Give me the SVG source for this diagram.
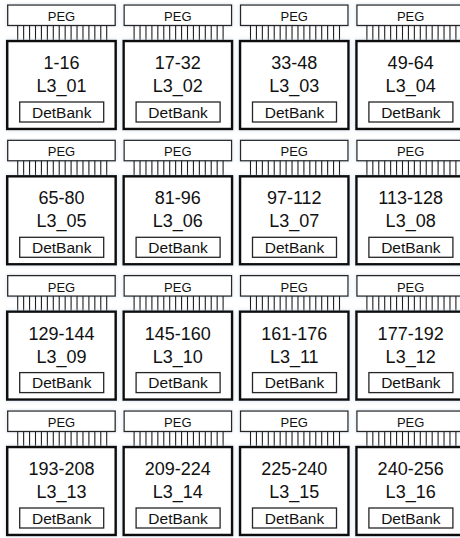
<svg xmlns="http://www.w3.org/2000/svg" xmlns:xlink="http://www.w3.org/1999/xlink" width="460" height="538" viewBox="0 0 460 538">
<style>
  .peg{fill:#fff;stroke:#262626;stroke-width:1.3}
  .main{fill:#fff;stroke:#111;stroke-width:2.5}
  .det{fill:#fff;stroke:#262626;stroke-width:1.3}
  .pin{stroke:#1e1e1e;stroke-width:1.1}
  text{font-family:"Liberation Sans",Arial,sans-serif;fill:#111;text-anchor:middle}
  .tp{font-size:13px}
  .tr{font-size:18px}
  .td{font-size:15.5px}
</style>
<defs>
  <filter id="glow" x="-10%" y="-10%" width="120%" height="120%">
    <feGaussianBlur in="SourceAlpha" stdDeviation="2.2" result="b"/>
    <feFlood flood-color="#b9c8dd" flood-opacity="0.55"/>
    <feComposite operator="in" in2="b" result="s"/>
    <feMerge><feMergeNode in="s"/><feMergeNode in="SourceGraphic"/></feMerge>
  </filter>
  <g id="pins">
    <line class="pin" x1="10.5" y1="20.5" x2="10.5" y2="36"/>
    <line class="pin" x1="16.43" y1="20.5" x2="16.43" y2="36"/>
    <line class="pin" x1="22.37" y1="20.5" x2="22.37" y2="36"/>
    <line class="pin" x1="28.3" y1="20.5" x2="28.3" y2="36"/>
    <line class="pin" x1="34.23" y1="20.5" x2="34.23" y2="36"/>
    <line class="pin" x1="40.17" y1="20.5" x2="40.17" y2="36"/>
    <line class="pin" x1="46.1" y1="20.5" x2="46.1" y2="36"/>
    <line class="pin" x1="52.03" y1="20.5" x2="52.03" y2="36"/>
    <line class="pin" x1="57.97" y1="20.5" x2="57.97" y2="36"/>
    <line class="pin" x1="63.9" y1="20.5" x2="63.9" y2="36"/>
    <line class="pin" x1="69.83" y1="20.5" x2="69.83" y2="36"/>
    <line class="pin" x1="75.77" y1="20.5" x2="75.77" y2="36"/>
    <line class="pin" x1="81.7" y1="20.5" x2="81.7" y2="36"/>
    <line class="pin" x1="87.63" y1="20.5" x2="87.63" y2="36"/>
    <line class="pin" x1="93.57" y1="20.5" x2="93.57" y2="36"/>
    <line class="pin" x1="99.5" y1="20.5" x2="99.5" y2="36"/>
  </g>
  <g id="frame">
    <rect class="peg" x="0.5" y="0" width="107.5" height="20.5" filter="url(#glow)"/>
    <text class="tp" x="54.25" y="16">PEG</text>
    <use xlink:href="#pins"/>
    <rect class="main" x="0" y="36" width="108.5" height="88" filter="url(#glow)"/>
    <rect class="det" x="12.5" y="97" width="84" height="20"/>
    <text class="td" x="54.5" y="112.5">DetBank</text>
  </g>
</defs>
<g id="connectors"></g>

<g id="n01" transform="translate(7.2,5)"><use xlink:href="#frame"/><text class="tr" x="54.25" y="64">1-16</text><text class="tr" x="54.25" y="87">L3_01</text></g>
<g id="n02" transform="translate(123.6,5)"><use xlink:href="#frame"/><text class="tr" x="54.25" y="64">17-32</text><text class="tr" x="54.25" y="87">L3_02</text></g>
<g id="n03" transform="translate(240,5)"><use xlink:href="#frame"/><text class="tr" x="54.25" y="64">33-48</text><text class="tr" x="54.25" y="87">L3_03</text></g>
<g id="n04" transform="translate(356.4,5)"><use xlink:href="#frame"/><text class="tr" x="54.25" y="64">49-64</text><text class="tr" x="54.25" y="87">L3_04</text></g>

<g id="n05" transform="translate(7.2,140.3)"><use xlink:href="#frame"/><text class="tr" x="54.25" y="64">65-80</text><text class="tr" x="54.25" y="87">L3_05</text></g>
<g id="n06" transform="translate(123.6,140.3)"><use xlink:href="#frame"/><text class="tr" x="54.25" y="64">81-96</text><text class="tr" x="54.25" y="87">L3_06</text></g>
<g id="n07" transform="translate(240,140.3)"><use xlink:href="#frame"/><text class="tr" x="54.25" y="64">97-112</text><text class="tr" x="54.25" y="87">L3_07</text></g>
<g id="n08" transform="translate(356.4,140.3)"><use xlink:href="#frame"/><text class="tr" x="54.25" y="64">113-128</text><text class="tr" x="54.25" y="87">L3_08</text></g>

<g id="n09" transform="translate(7.2,275.6)"><use xlink:href="#frame"/><text class="tr" x="54.25" y="64">129-144</text><text class="tr" x="54.25" y="87">L3_09</text></g>
<g id="n10" transform="translate(123.6,275.6)"><use xlink:href="#frame"/><text class="tr" x="54.25" y="64">145-160</text><text class="tr" x="54.25" y="87">L3_10</text></g>
<g id="n11" transform="translate(240,275.6)"><use xlink:href="#frame"/><text class="tr" x="54.25" y="64">161-176</text><text class="tr" x="54.25" y="87">L3_11</text></g>
<g id="n12" transform="translate(356.4,275.6)"><use xlink:href="#frame"/><text class="tr" x="54.25" y="64">177-192</text><text class="tr" x="54.25" y="87">L3_12</text></g>

<g id="n13" transform="translate(7.2,411)"><use xlink:href="#frame"/><text class="tr" x="54.25" y="64">193-208</text><text class="tr" x="54.25" y="87">L3_13</text></g>
<g id="n14" transform="translate(123.6,411)"><use xlink:href="#frame"/><text class="tr" x="54.25" y="64">209-224</text><text class="tr" x="54.25" y="87">L3_14</text></g>
<g id="n15" transform="translate(240,411)"><use xlink:href="#frame"/><text class="tr" x="54.25" y="64">225-240</text><text class="tr" x="54.25" y="87">L3_15</text></g>
<g id="n16" transform="translate(356.4,411)"><use xlink:href="#frame"/><text class="tr" x="54.25" y="64">240-256</text><text class="tr" x="54.25" y="87">L3_16</text></g>
</svg>
